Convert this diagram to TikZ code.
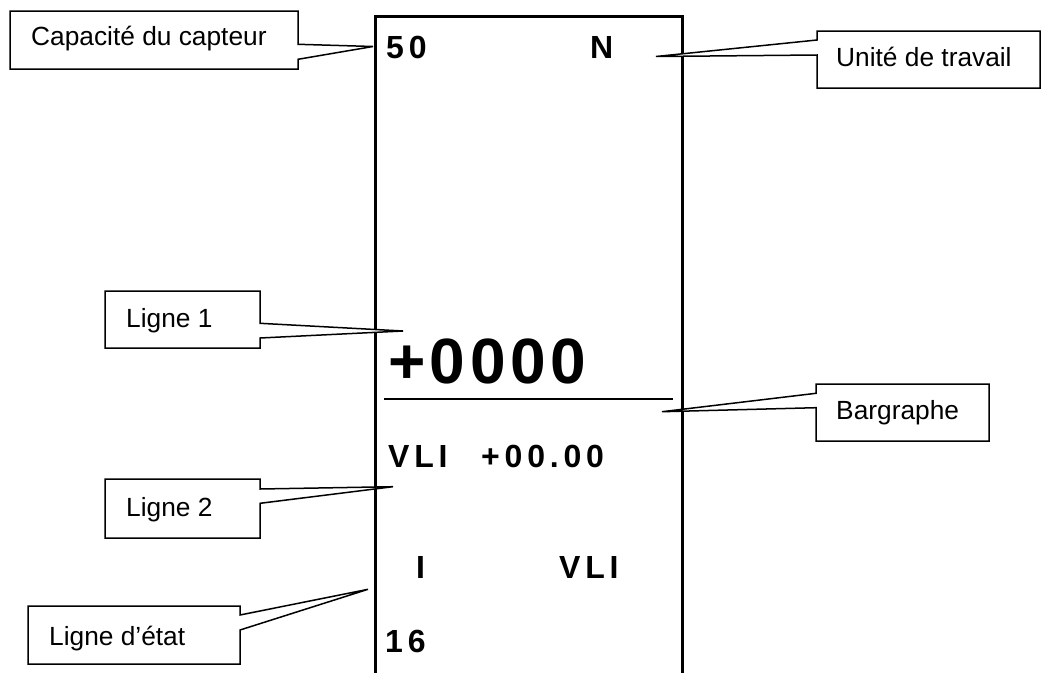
\documentclass[tikz,border=0pt]{standalone}
\usepackage{fontspec}
\setmainfont{Liberation Sans}
\newfontfamily\dispsmall[LetterSpace=15]{Liberation Sans}
\newfontfamily\dispbig[LetterSpace=7]{Liberation Sans}
\usetikzlibrary{calc}
\newcommand{\calloutR}[4]{%
  \draw[cline] (#1.north west) -- (#1.north east) -- ($(#1.north east)+(0,#2)$) -- (#4)
    -- ($(#1.north east)+(0,#3)$) -- (#1.south east) -- (#1.south west) -- cycle;}
\newcommand{\calloutL}[4]{%
  \draw[cline] (#1.north east) -- (#1.north west) -- ($(#1.north west)+(0,#2)$) -- (#4)
    -- ($(#1.north west)+(0,#3)$) -- (#1.south west) -- (#1.south east) -- cycle;}
\begin{document}
\begin{tikzpicture}[x=1pt,y=-1pt,
  cbox/.style={draw=none,inner sep=0pt,outer sep=0pt},
  cline/.style={draw=black,fill=white,line width=1.5pt,line join=miter},
  ctext/.style={inner sep=0pt,anchor=base west,font=\fontsize{26.3}{31}\selectfont},
  dsmall/.style={inner sep=0pt,anchor=base west,font=\dispsmall\bfseries\fontsize{32}{38}\selectfont},
  dbig/.style={inner sep=0pt,anchor=base west,font=\dispbig\bfseries\fontsize{64}{72}\selectfont}]
\useasboundingbox (0,0) rectangle (1043,672);
\fill[white] (0,0) rectangle (1043,672);

% display frame
\coordinate (fbl) at (375.5,675);
\coordinate (ftl) at (375.5,16);
\coordinate (ftr) at (682,16);
\coordinate (fbr) at (682,675);
\draw[line width=3pt,line join=miter] (fbl) -- (ftl) -- (ftr) -- (fbr);

% bargraph line
\coordinate (bgl) at (384,399);
\coordinate (bgr) at (673,399);
\draw[line width=2pt] (bgl) -- (bgr);

% display texts
\node[dsmall] (t50) at (386,58) {50};
\node[dsmall] (tN) at (590,58) {N};
\node[dbig] (t0000) at (388,383) {+0000};
\node[dsmall] (tvli) at (388,467) {VLI};
\node[dsmall] (tval) at (481,467) {+00.00};
\node[dsmall] (tI) at (416,578) {I};
\node[dsmall] (tvli2) at (559,578) {VLI};
\node[dsmall] (t16) at (385,652) {16};

% callout boxes
\node[cbox,minimum width=288pt,minimum height=58pt] (cap) at (154,40) {};
\node[cbox,minimum width=223pt,minimum height=57pt] (uni) at (928.5,59.5) {};
\node[cbox,minimum width=155pt,minimum height=57pt] (l1) at (182.5,319.5) {};
\node[cbox,minimum width=173pt,minimum height=57pt] (bar) at (902.5,412.5) {};
\node[cbox,minimum width=155pt,minimum height=59pt] (l2) at (182.5,508.5) {};
\node[cbox,minimum width=212pt,minimum height=58pt] (le) at (134,635) {};

% pointer tips
\coordinate (capT) at (373,46.5);
\coordinate (uniT) at (656,56.5);
\coordinate (l1T) at (403,331);
\coordinate (barT) at (662,411.7);
\coordinate (l2T) at (393,486.7);
\coordinate (leT) at (368,589.3);

\calloutR{cap}{33.3}{48.3}{capT}
\calloutL{uni}{9}{24}{uniT}
\calloutR{l1}{32.3}{47}{l1T}
\calloutL{bar}{9.3}{23.7}{barT}
\calloutR{l2}{10}{24.3}{l2T}
\calloutR{le}{9}{24}{leT}

% callout texts
\node[ctext] (capx) at (31,45) {Capacité du capteur};
\node[ctext] (unix) at (836,66) {Unité de travail};
\node[ctext] (l1x) at (126,327) {Ligne 1};
\node[ctext] (barx) at (836,419) {Bargraphe};
\node[ctext] (l2x) at (126,516) {Ligne 2};
\node[ctext] (lex) at (49,645) {Ligne d’état};
\end{tikzpicture}
\end{document}
